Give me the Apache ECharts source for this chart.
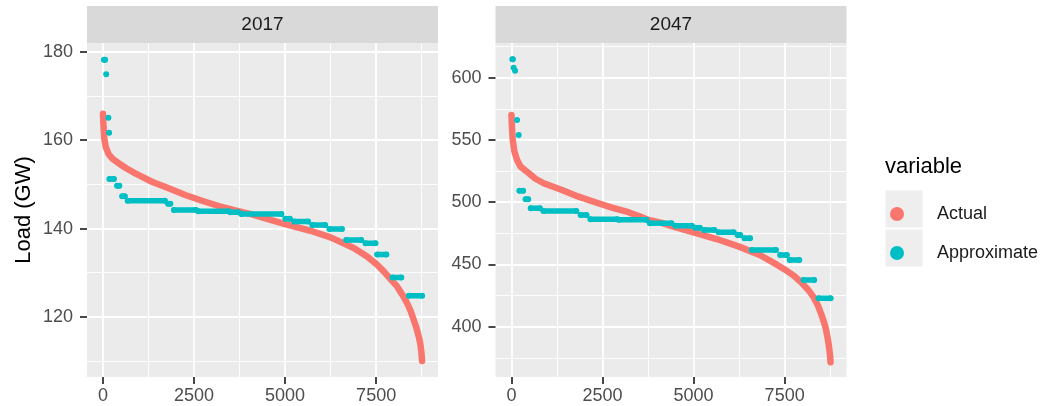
<!DOCTYPE html>
<html>
<head>
<meta charset="utf-8">
<script src="https://cdn.jsdelivr.net/npm/echarts@6/dist/echarts.min.js"></script>
<style>
html,body{margin:0;padding:0;background:#fff;}
#chart{width:1053px;height:406px;}
</style>
</head>
<body>
<div id="chart"></div>
<script>
// ---------------- DATA ----------------
const panels = ['2017', '2047'];
const seriesNames = ['Actual', 'Approximate'];
const legendTitle = 'variable';
const yTitle = 'Load (GW)';

const xTicks = [0, 2500, 5000, 7500];
const xMinor = [1250, 3750, 6250, 8750];
const yTicks2017 = [120, 140, 160, 180];
const yMinor2017 = [110, 130, 150, 170];
const yTicks2047 = [400, 450, 500, 550, 600];
const yMinor2047 = [375, 425, 475, 525, 575, 625];

// Actual load duration curve [hour, GW]
const actual2017 = [
  [1,166.0],[15,163.5],[35,160.5],[80,158.4],[155,156.9],[250,155.9],[430,154.8],[650,153.6],
  [887,152.5],[1345,150.6],[1803,149.1],[2260,147.6],[2719,146.3],[3176,145.1],[3500,144.4],
  [3772,143.85],[4093,143.2],[4412,142.4],[5000,141.0],[5695,139.5],[6250,138.0],[6885,135.6],
  [7252,133.7],[7527,131.8],[7708,130.3],[7900,128.5],[8076,126.9],[8250,124.6],[8351,123.1],
  [8450,121.3],[8532,119.3],[8610,117.4],[8670,115.5],[8710,114.0],[8735,112.5],[8750,111.2],[8760,110.0]
];
const actual2047 = [
  [1,570.0],[15,560.0],[36,550.0],[80,541.0],[155,533.9],[250,528.5],[480,523.2],[650,519.0],
  [885,515.2],[1388,509.8],[1843,504.4],[2300,499.9],[2757,495.6],[3212,491.9],[3532,488.4],
  [3760,485.7],[4126,483.3],[4444,480.3],[5000,475.8],[5632,470.4],[6250,464.3],[6818,457.6],
  [7275,450.0],[7500,446.0],[7750,441.0],[7960,435.5],[8150,429.5],[8300,423.5],[8414,417.0],
  [8500,410.5],[8570,404.5],[8625,399.0],[8670,392.5],[8705,386.5],[8730,381.0],[8748,376.5],[8760,371.5]
];

// Approximate: flat steps [startHour, endHour, GW]
const approx2017 = [
  [30,60,178.2],[90,90,174.9],[150,150,165.1],[170,170,161.7],[180,300,151.2],[390,450,149.7],
  [530,600,147.3],[680,1700,146.3],[1790,1850,145.6],[1950,2550,144.2],[2620,3450,143.9],
  [3500,3720,143.7],[3800,4900,143.3],[5010,5130,142.2],[5250,5630,141.6],[5750,6100,140.8],
  [6220,6560,139.9],[6680,7090,137.4],[7210,7480,136.7],[7530,7780,134.1],[7950,8190,128.9],
  [8400,8760,124.8]
];
const approx2047 = [
  [25,40,614.8],[60,60,608.0],[100,100,605.6],[155,155,566.0],[200,200,554.0],[220,320,509.2],
  [390,460,502.3],[530,780,495.1],[880,1780,492.9],[1900,2060,489.7],[2170,2900,486.3],
  [2950,3700,485.8],[3800,4390,483.0],[4500,4950,481.1],[5050,5170,479.5],[5290,5570,477.7],
  [5690,6100,475.8],[6210,6280,473.7],[6400,6550,471.0],[6600,7260,461.6],[7380,7560,457.6],
  [7640,7900,453.6],[8020,8310,437.5],[8430,8760,422.8]
];

// ---------------- STYLE / LAYOUT ----------------
const RED = '#F8766D', TEAL = '#00BFC4';
const FONT = '"Liberation Sans", Arial, sans-serif';
const gridsPos = [{left: 87, top: 43, width: 351, height: 334}, {left: 495.5, top: 43, width: 351, height: 334}];
const xRange = [-437, 9198];
const yRanges = [[106.4, 182.0], [359.6, 627.8]];

function stepsToLine(steps) {
  const out = [];
  steps.forEach((s, i) => {
    if (i > 0) out.push([s[0], '-']);
    if (s[0] === s[1]) out.push([s[0], s[2]]);
    else { out.push([s[0], s[2]]); out.push([s[1], s[2]]); }
  });
  return out;
}

const grids = gridsPos.map(g => Object.assign({show: true, backgroundColor: '#EBEBEB', borderWidth: 0, containLabel: false}, g));

const xAxes = [], yAxes = [];
const yTicksAll = [yTicks2017, yTicks2047], yMinorAll = [yMinor2017, yMinor2047];
for (let i = 0; i < 2; i++) {
  xAxes.push({
    type: 'value', gridIndex: i, min: xRange[0], max: xRange[1], position: 'bottom',
    axisLine: {show: false, onZero: false},
    axisTick: {show: true, length: 7, lineStyle: {color: '#333333', width: 1.8}, customValues: xTicks},
    axisLabel: {show: true, customValues: xTicks, margin: 10, fontSize: 18, color: '#4D4D4D', fontFamily: FONT, formatter: v => String(v)},
    splitLine: {show: true, lineStyle: {color: '#FFFFFF', width: 1.8}},
    z: 2
  });
  xAxes.push({
    type: 'value', gridIndex: i, min: xRange[0], max: xRange[1], position: 'bottom',
    axisLine: {show: false, onZero: false}, axisTick: {show: false, customValues: xMinor},
    axisLabel: {show: false, customValues: xMinor},
    splitLine: {show: true, lineStyle: {color: '#FFFFFF', width: 0.9}},
    z: 1
  });
  yAxes.push({
    type: 'value', gridIndex: i, min: yRanges[i][0], max: yRanges[i][1], position: 'left',
    name: i === 0 ? yTitle : '', nameLocation: 'middle', nameGap: 52, nameRotate: 90,
    nameTextStyle: {fontSize: 22, color: '#000000', fontFamily: FONT},
    axisLine: {show: false, onZero: false},
    axisTick: {show: true, length: 7, lineStyle: {color: '#333333', width: 1.8}, customValues: yTicksAll[i]},
    axisLabel: {show: true, customValues: yTicksAll[i], margin: 14, fontSize: 18, color: '#4D4D4D', fontFamily: FONT, formatter: v => String(v)},
    splitLine: {show: true, lineStyle: {color: '#FFFFFF', width: 1.8}},
    z: 2
  });
  yAxes.push({
    type: 'value', gridIndex: i, min: yRanges[i][0], max: yRanges[i][1], position: 'left',
    axisLine: {show: false, onZero: false}, axisTick: {show: false, customValues: yMinorAll[i]},
    axisLabel: {show: false, customValues: yMinorAll[i]},
    splitLine: {show: true, lineStyle: {color: '#FFFFFF', width: 0.9}},
    z: 1
  });
}

const actuals = [actual2017, actual2047];
const approxs = [approx2017, approx2047];
const series = [];
for (let i = 0; i < 2; i++) {
  series.push({
    name: seriesNames[0], type: 'line', xAxisIndex: i * 2, yAxisIndex: i * 2,
    data: actuals[i], showSymbol: false, symbol: 'circle', color: RED,
    lineStyle: {color: RED, width: 6.5, cap: 'round', join: 'round'},
    silent: true, z: 3
  });
}
for (let i = 0; i < 2; i++) {
  series.push({
    name: seriesNames[1], type: 'line', xAxisIndex: i * 2, yAxisIndex: i * 2,
    data: stepsToLine(approxs[i]), showSymbol: true, showAllSymbol: true, symbol: 'circle', symbolSize: 6,
    color: TEAL, itemStyle: {color: TEAL, borderWidth: 0},
    lineStyle: {color: TEAL, width: 5.5, cap: 'round'},
    connectNulls: false, silent: true, z: 4
  });
}

const graphics = [];
gridsPos.forEach((g, i) => {
  graphics.push({type: 'rect', shape: {x: g.left, y: 6, width: g.width, height: 37}, style: {fill: '#D9D9D9'}, silent: true});
  graphics.push({type: 'text', x: g.left + g.width / 2, y: 25, style: {text: panels[i], fontSize: 19, fill: '#1A1A1A', fontFamily: FONT, align: 'center', verticalAlign: 'middle'}, silent: true});
});
graphics.push({type: 'text', x: 885, y: 167, style: {text: legendTitle, fontSize: 22, fill: '#000000', fontFamily: FONT, align: 'left', verticalAlign: 'middle'}, silent: true});
graphics.push({type: 'rect', shape: {x: 885, y: 190, width: 38, height: 38}, style: {fill: '#EEEEEE', stroke: '#FFFFFF', lineWidth: 1}, silent: true, z: -1});
graphics.push({type: 'rect', shape: {x: 885, y: 229, width: 38, height: 38}, style: {fill: '#EEEEEE', stroke: '#FFFFFF', lineWidth: 1}, silent: true, z: -1});

const chart = echarts.init(document.getElementById('chart'), null, {renderer: 'canvas'});
chart.setOption({
  animation: false,
  backgroundColor: '#FFFFFF',
  textStyle: {fontFamily: FONT},
  grid: grids,
  xAxis: xAxes,
  yAxis: yAxes,
  legend: {
    show: true, orient: 'vertical', left: 885, top: 199,
    itemWidth: 38, itemHeight: 14, itemGap: 19,
    data: [{name: seriesNames[0], icon: 'circle', itemStyle: {color: RED}}, {name: seriesNames[1], icon: 'circle', itemStyle: {color: TEAL}}],
    textStyle: {fontSize: 18, color: '#1A1A1A', fontFamily: FONT, lineHeight: 20, padding: [0, 0, 0, 16]},
    selectedMode: false
  },
  graphic: graphics,
  series: series
});
</script>
</body>
</html>
